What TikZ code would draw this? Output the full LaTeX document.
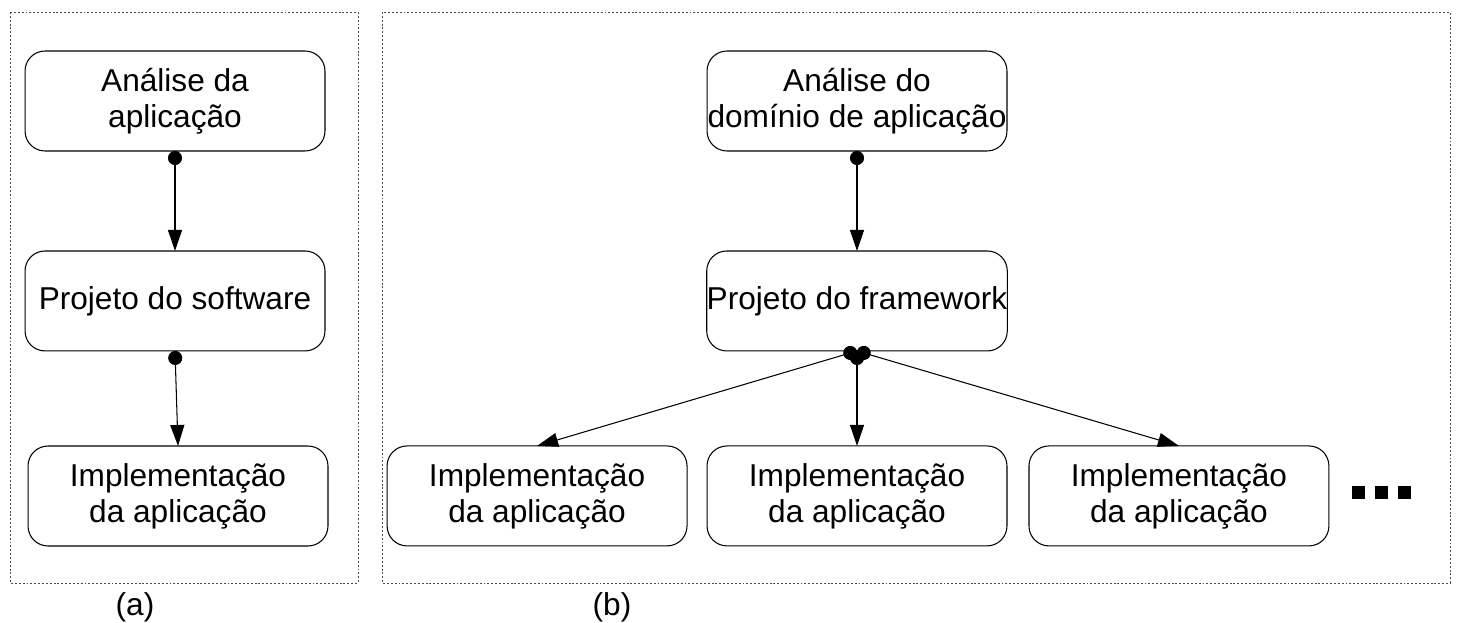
\documentclass[tikz,border=0pt]{standalone}
\usepackage{fontspec}
\setmainfont{Liberation Sans}
\usepackage{tikz}
\usetikzlibrary{arrows.meta,positioning}
\tikzset{
  mybox/.style = {rectangle, rounded corners=0.4cm, draw, line width=0.6pt, minimum height=2cm, minimum width=6cm, inner sep=0pt, outer sep=0pt, align=center, font=\fontsize{18}{20.5}\selectfont},
  myarrow/.style = {{Circle[length=8pt]}-{Triangle[length=12pt, width=8pt]}, line width=0.6pt},
  myframe/.style = {draw=black!70, line width=0.5pt, dash pattern=on 1.1pt off 1.1pt},
  mylabel/.style = {font=\fontsize{18}{20.5}\selectfont},
  mydot/.style = {rectangle, fill=black, minimum size=13*0.02cm, inner sep=0pt},
}
\begin{document}
\begin{tikzpicture}[x=0.02cm, y=-0.02cm]
\useasboundingbox (0,0) rectangle (1459,622);
% (a)
\draw[myframe] (10,12) rectangle (358,583);
\node[mybox] (la) at (175,101) {Análise da\\aplicação};
\node[mybox, below=2cm of la] (lp) {Projeto do software};
\node[mybox] (li) at (178,496) {Implementação\\da aplicação};
\draw[myarrow] (la.south) -- (lp.north);
\draw[myarrow] (lp.south) -- (li.north);
\node[mylabel] (ta) at (135,607) {(a)};
% (b)
\draw[myframe] (382,12) rectangle (1450,583);
\node[mybox] (ra) at (857,101) {Análise do\\domínio de aplicação};
\node[mybox, below=2cm of ra] (rp) {Projeto do framework};
\node[mybox, below=1.9cm of rp] (i2) {Implementação\\da aplicação};
\node[mybox, left=0.4cm of i2] (i1) {Implementação\\da aplicação};
\node[mybox, right=0.44cm of i2] (i3) {Implementação\\da aplicação};
\draw[myarrow] (ra.south) -- (rp.north);
\draw[myarrow] (rp.south) -- (i1.north);
\draw[myarrow] (rp.south) -- (i2.north);
\draw[myarrow] (rp.south) -- (i3.north);
\foreach \i/\x in {1/1358, 2/1381, 3/1404}
  \node[mydot] (d\i) at (\x,492) {};
\node[mylabel] (tb) at (612,607) {(b)};
\end{tikzpicture}
\end{document}
